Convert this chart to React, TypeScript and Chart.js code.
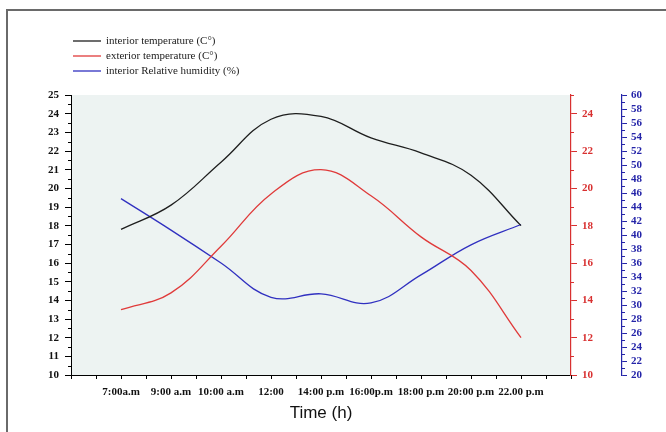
import React, { useEffect, useRef } from "react";
import { Chart, registerables } from "chart.js";

Chart.register(...registerables);

const timeLabels = [
  "7:00a.m",
  "9:00 a.m",
  "10:00 a.m",
  "12:00",
  "14:00 p.m",
  "16:00p.m",
  "18:00 p.m",
  "20:00 p.m",
  "22.00 p.m",
];
const interiorTemp = [17.8, 19.1, 21.4, 23.7, 23.85, 22.7, 21.9, 20.7, 18.0];
const exteriorTemp = [13.5, 14.4, 16.9, 19.7, 21.0, 19.6, 17.4, 15.6, 12.0];
const interiorHumidity = [45.2, 40.7, 36.0, 31.1, 31.6, 30.3, 34.3, 38.6, 41.5];
const seriesNames = [
  "interior temperature (C°)",
  "exterior temperature (C°)",
  "interior Relative humidity (%)",
];
const seriesColors = ["#1e1e1e", "#e03a3a", "#3030c0"];
const redAxisColor = "#d83030";
const blueAxisColor = "#2424a8";

const range = (a: number, b: number, s: number) => {
  const out: number[] = [];
  for (let v = a; v <= b + 1e-9; v += s) out.push(Math.round(v * 100) / 100);
  return out;
};

// minor tick definitions per axis
const minorTicks: Record<string, { values: number[]; len: number; color: string }> = {
  y: { values: range(10.5, 24.5, 1), len: 3, color: "#000" },
  yRed: { values: range(11, 25, 2), len: 3, color: redAxisColor },
  yBlue: { values: range(21, 59, 2), len: 3, color: blueAxisColor },
};

const bgPlugin = {
  id: "plotBg",
  beforeDraw(chart: any) {
    const { ctx, chartArea } = chart;
    ctx.save();
    ctx.fillStyle = "#edf3f2";
    ctx.fillRect(chartArea.left, chartArea.top, chartArea.right - chartArea.left, chartArea.bottom - chartArea.top);
    ctx.restore();
  },
};

const minorTickPlugin = {
  id: "minorTicks",
  afterDraw(chart: any) {
    const { ctx } = chart;
    ctx.save();
    Object.keys(minorTicks).forEach((id) => {
      const scale = chart.scales[id];
      if (!scale) return;
      const def = minorTicks[id];
      ctx.strokeStyle = def.color;
      ctx.lineWidth = 1;
      def.values.forEach((v) => {
        const py = Math.round(scale.getPixelForValue(v)) + 0.5;
        ctx.beginPath();
        if (scale.position === "left") {
          ctx.moveTo(scale.right - def.len, py);
          ctx.lineTo(scale.right, py);
        } else {
          ctx.moveTo(scale.left, py);
          ctx.lineTo(scale.left + def.len, py);
        }
        ctx.stroke();
      });
    });
    ctx.restore();
  },
};

const legendPlugin = {
  id: "customLegend",
  afterDraw(chart: any) {
    const { ctx } = chart;
    ctx.save();
    chart.data.datasets.forEach((ds: any, i: number) => {
      const y = 41 + i * 15;
      ctx.strokeStyle = ds.borderColor;
      ctx.lineWidth = 1.3;
      ctx.beginPath();
      ctx.moveTo(73, y);
      ctx.lineTo(101, y);
      ctx.stroke();
      ctx.fillStyle = "#222";
      ctx.font = "11px 'Liberation Serif'";
      ctx.textBaseline = "middle";
      ctx.textAlign = "left";
      ctx.fillText(ds.label, 106, y);
    });
    ctx.restore();
  },
};

export default function App() {
  const ref = useRef<HTMLCanvasElement | null>(null);

  useEffect(() => {
    if (!ref.current) return;
    const mk = (arr: number[]) => arr.map((v, i) => ({ x: i, y: v }));
    const chart = new Chart(ref.current, {
      type: "line",
      data: {
        datasets: [
          {
            label: seriesNames[0],
            data: mk(interiorTemp),
            borderColor: seriesColors[0],
            borderWidth: 1.3,
            pointRadius: 0,
            tension: 0.4,
            yAxisID: "y",
          },
          {
            label: seriesNames[1],
            data: mk(exteriorTemp),
            borderColor: seriesColors[1],
            borderWidth: 1.3,
            pointRadius: 0,
            tension: 0.4,
            yAxisID: "yRed",
          },
          {
            label: seriesNames[2],
            data: mk(interiorHumidity),
            borderColor: seriesColors[2],
            borderWidth: 1.3,
            pointRadius: 0,
            tension: 0.4,
            yAxisID: "yBlue",
          },
        ],
      },
      options: {
        responsive: false,
        animation: false,
        layout: { padding: { top: 95, left: 0, right: 0, bottom: 0 } },
        plugins: {
          legend: { display: false },
          tooltip: { enabled: false },
        },
        scales: {
          x: {
            type: "linear",
            min: -1,
            max: 9,
            afterBuildTicks: (s: any) => {
              s.ticks = range(-1, 9, 0.5).map((v) => ({ value: v }));
            },
            afterFit: (s: any) => {
              s.height = 57;
            },
            ticks: {
              autoSkip: false,
              maxRotation: 0,
              minRotation: 0,
              padding: 7,
              color: "#111",
              font: { family: "'Liberation Serif'", size: 11, weight: "bold" },
              callback: (v: any) => {
                const n = Number(v);
                return Number.isInteger(n) && n >= 0 && n < timeLabels.length ? timeLabels[n] : "";
              },
            },
            grid: { drawOnChartArea: false, drawTicks: true, tickLength: 4, tickColor: "#000" },
            border: { display: true, color: "#000", width: 1 },
            title: {
              display: true,
              text: "Time (h)",
              color: "#111",
              font: { family: "'Liberation Sans'", size: 17 },
              padding: { top: 0, bottom: 8 },
            },
          },
          y: {
            type: "linear",
            position: "left",
            min: 10,
            max: 25,
            afterBuildTicks: (s: any) => {
              s.ticks = range(10, 25, 1).map((v) => ({ value: v }));
            },
            afterFit: (s: any) => {
              s.width = 71;
            },
            ticks: {
              autoSkip: false,
              padding: 6,
              color: "#111",
              font: { family: "'Liberation Serif'", size: 11, weight: "bold" },
              callback: (v: any) => String(v),
            },
            grid: { drawOnChartArea: false, drawTicks: true, tickLength: 6, tickColor: "#000" },
            border: { display: true, color: "#000", width: 1 },
          },
          yRed: {
            type: "linear",
            position: "right",
            min: 10,
            max: 25,
            afterBuildTicks: (s: any) => {
              s.ticks = range(10, 24, 2).map((v) => ({ value: v }));
            },
            afterFit: (s: any) => {
              s.width = 51;
            },
            ticks: {
              autoSkip: false,
              padding: 5,
              color: redAxisColor,
              font: { family: "'Liberation Serif'", size: 11, weight: "bold" },
              callback: (v: any) => String(v),
            },
            grid: { drawOnChartArea: false, drawTicks: true, tickLength: 6, tickColor: redAxisColor },
            border: { display: true, color: redAxisColor, width: 1.2 },
          },
          yBlue: {
            type: "linear",
            position: "right",
            min: 20,
            max: 60,
            afterBuildTicks: (s: any) => {
              s.ticks = range(20, 60, 2).map((v) => ({ value: v }));
            },
            afterFit: (s: any) => {
              s.width = 44;
            },
            ticks: {
              autoSkip: false,
              padding: 4,
              color: blueAxisColor,
              font: { family: "'Liberation Serif'", size: 11, weight: "bold" },
              callback: (v: any) => String(v),
            },
            grid: { drawOnChartArea: false, drawTicks: true, tickLength: 5, tickColor: blueAxisColor },
            border: { display: true, color: blueAxisColor, width: 1.2 },
          },
        },
      },
      plugins: [bgPlugin, minorTickPlugin, legendPlugin],
    } as any);
    return () => chart.destroy();
  }, []);

  return (
    <div
      style={{
        position: "fixed",
        left: 0,
        top: 0,
        width: 666,
        height: 432,
        overflow: "hidden",
        background: "#fff",
      }}
    >
      <div
        style={{
          position: "absolute",
          left: 6,
          top: 9,
          width: 800,
          height: 600,
          borderLeft: "2px solid #6a6a6a",
          borderTop: "2px solid #6a6a6a",
        }}
      />
      <canvas ref={ref} width={666} height={432} style={{ position: "absolute", left: 0, top: 0 }} />
    </div>
  );
}
